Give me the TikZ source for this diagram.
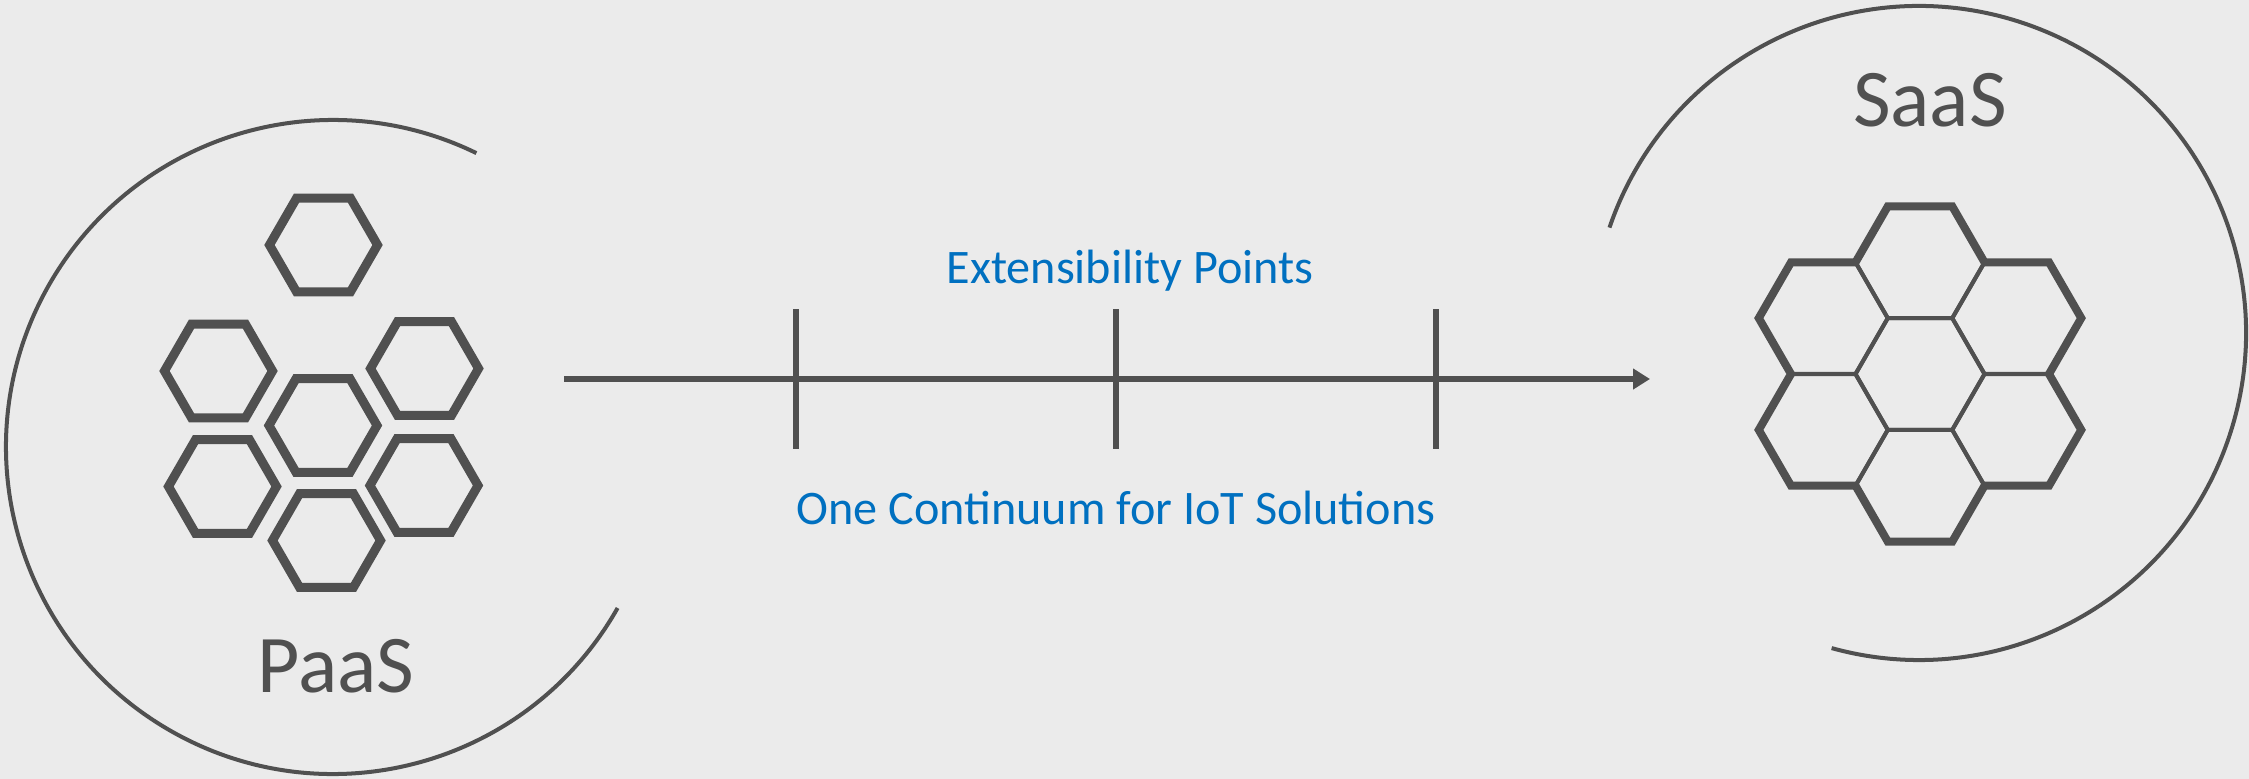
\documentclass[tikz,border=0pt]{standalone}
\usepackage{xcolor}
\usepackage{fontspec}
\setmainfont{Carlito}
\usetikzlibrary{arrows.meta,calc,shapes.geometric,positioning}
\definecolor{slate}{RGB}{80,80,80}
\definecolor{paper}{RGB}{235,235,235}
\definecolor{iotblue}{RGB}{0,112,192}
\tikzset{
    hexcell/.style={regular polygon, regular polygon sides=6, draw=slate, inner sep=0pt},
    paashex/.style={hexcell, minimum size=1.08cm, line width=2.56pt},
    saashex/.style={hexcell, minimum size=1.29cm, line width=1.14pt},
    bigword/.style={text=slate, font=\fontsize{23.3}{28}\selectfont, inner sep=0pt, anchor=base},
    blueword/.style={text=iotblue, font=\fontsize{13.7}{16}\selectfont, inner sep=0pt, anchor=base},
    ring/.style={draw=slate, line width=1.14pt}
}

\begin{document}
\begin{tikzpicture}[x=0.01cm, y=-0.01cm]

    % Background.
    \fill[paper] (0,0) rectangle (2249,779);
    \useasboundingbox (0,0) rectangle (2249,779);

    % Open rings.
    \draw[ring] (333,447) ++(29.5:327) arc[start angle=29.5, end angle=296, radius=327];
    \draw[ring] (1919,333) ++(198.8:327) arc[start angle=198.8, end angle=465.5, radius=327];

    % Loose hexagons (PaaS).
    \node[paashex] (p-top) at (323.5,245) {};
    \node[paashex] (p-lu) at (218.5,371) {};
    \node[paashex] (p-ru) at (424.5,368.5) {};
    \node[paashex] (p-mid) at (323,425.5) {};
    \node[paashex] (p-ll) at (222.5,486.5) {};
    \node[paashex] (p-rl) at (424,485.5) {};
    \node[paashex] (p-bot) at (326.5,540.5) {};
    \node[bigword] (paas) at (336,692) {PaaS};

    % Honeycomb (SaaS).
    \foreach \name/\dx/\dy in {top/0/-2, lu/-1.5/-1, ru/1.5/-1, mid/0/0, ll/-1.5/1, rl/1.5/1, bot/0/2}
        \node[saashex] (s-\name) at ({1920+\dx*64.5},{374+\dy*55.86}) {};
    \draw[slate, line width=2.28pt, line join=miter, shift={(1920,374)}]
        (-32.25,-167.6) -- (32.25,-167.6) -- (64.5,-111.7) -- (129,-111.7)
        -- (161.25,-55.9) -- (129,0) -- (161.25,55.9) -- (129,111.7)
        -- (64.5,111.7) -- (32.25,167.6) -- (-32.25,167.6) -- (-64.5,111.7)
        -- (-129,111.7) -- (-161.25,55.9) -- (-129,0) -- (-161.25,-55.9)
        -- (-129,-111.7) -- (-64.5,-111.7) -- cycle;
    \node[bigword] (saas) at (1930,127) {SaaS};

    % Continuum axis.
    \coordinate (start) at (564,379);
    \coordinate (goal) at (1650,379);
    \draw[slate, line width=1.56pt, -{Triangle[length=0.17cm, width=0.2cm]}] (start) -- (goal);
    \foreach \t in {796,1116,1436}
        \draw[slate, line width=1.56pt] (\t,309) -- (\t,449);

    % Labels.
    \node[blueword] (ext) at (1130,283) {Extensibility Points};
    \node[blueword] (cont) at (1116,524) {One Continuum for IoT Solutions};

\end{tikzpicture}
\end{document}
